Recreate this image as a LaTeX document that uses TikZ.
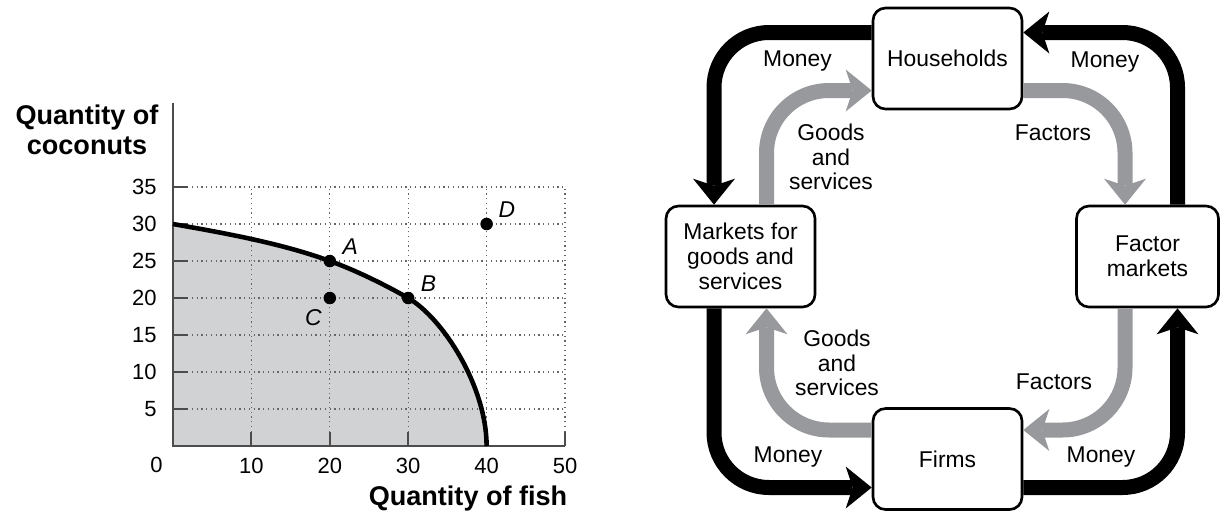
\documentclass[tikz,border=0pt]{standalone}
\usepackage{fontspec}
\setmainfont{Liberation Sans}
\usetikzlibrary{arrows.meta, positioning}
\definecolor{flowgray}{RGB}{152,153,156}
\definecolor{areagray}{RGB}{209,210,212}
\tikzstyle{sector} = [rectangle, rounded corners=0.25cm, minimum width=2.98cm, minimum height=2.02cm, text centered, align=center, draw=black, line width=1.5pt, fill=white, font=\fontsize{13}{14.2}\selectfont]
\tikzstyle{flowtext} = [align=center, font=\fontsize{13}{14}\selectfont]
\tikzstyle{moneyflow} = [draw=black, line width=0.3cm, rounded corners=1.1cm, -{Stealth[length=0.52cm, width=0.84cm, inset=0.14cm, line width=0pt]}]
\tikzstyle{goodsflow} = [moneyflow, draw=flowgray, rounded corners=1.25cm]
\tikzstyle{gridline} = [dotted, line width=0.7pt, draw=black!60]
\tikzstyle{axis} = [line width=1.1pt, draw=black!70]
\tikzstyle{frontier} = [line width=2.6pt, draw=black]
\tikzstyle{pointdot} = [circle, fill=black, inner sep=0pt, minimum size=0.25cm]
\tikzstyle{ptlabel} = [font=\fontsize{13}{14}\selectfont\itshape]
\tikzstyle{ticklabel} = [font=\fontsize{12.5}{14}\selectfont]
\tikzstyle{axistitle} = [align=center, font=\fontsize{15.4}{17}\selectfont\bfseries]
\begin{document}
\begin{tikzpicture}[node distance=1cm]
\useasboundingbox (0,0) rectangle (24.4,10.32);

\begin{scope}[shift={(3.46,1.40)}, x=0.1568cm, y=0.148cm]
\fill [areagray] (0,0) -- (0,30) .. controls (6.53,28.78) and (13.79,27.41) .. (20,25) .. controls (23.27,23.76) and (26.99,21.82) .. (30,20) .. controls (34.39,17.3) and (40,8.1) .. (40,0) -- cycle;
\foreach \x in {10,20,30,40,50}
  \draw [gridline] (\x,0) -- (\x,35);
\foreach \y in {5,10,...,35}
  \draw [gridline] (0,\y) -- (50,\y);
\draw [axis] (0,46.3) -- (0,0) -- (50,0);
\foreach \y in {5,10,...,35} {
  \draw [axis] (0,\y) -- (1.9,\y);
  \node (ylab\y) [ticklabel, anchor=east] at (-1.3,\y) {\y};
}
\foreach \x in {10,20,30,40,50} {
  \draw [axis] (\x,0) -- (\x,1.9);
  \node (xlab\x) [ticklabel] at (\x,-2.7) {\x};
}
\node (origin) [ticklabel] at (-2.1,-2.6) {0};
\draw [frontier] (0,30) .. controls (6.53,28.78) and (13.79,27.41) .. (20,25) .. controls (23.27,23.76) and (26.99,21.82) .. (30,20) .. controls (34.39,17.3) and (40,8.1) .. (40,0);
\node (ptA) [pointdot] at (20,25) {};
\node (ptB) [pointdot] at (30,20) {};
\node (ptC) [pointdot] at (20,20) {};
\node (ptD) [pointdot] at (40,30) {};
\node (labA) [ptlabel] at (22.6,26.9) {A};
\node (labB) [ptlabel] at (32.6,22.0) {B};
\node (labC) [ptlabel] at (17.9,17.4) {C};
\node (labD) [ptlabel] at (42.6,31.9) {D};
\end{scope}
\node (coconuts) [axistitle] at (1.74,7.72) {Quantity of\\coconuts};
\node (fish) [axistitle] at (9.36,0.36) {Quantity of fish};

\node (households) [sector] at (18.95,9.15) {Households};
\node (firms) [sector, below of=households, yshift=-7.01cm] {Firms};
\node (goodsmarkets) [sector, below of=households, xshift=-4.14cm, yshift=-2.96cm] {Markets for\\goods and\\services};
\node (factormarkets) [sector, minimum width=2.84cm, below of=households, xshift=4.0cm, yshift=-2.96cm] {Factor\\markets};

\draw [moneyflow] ([yshift=0.52cm]households.west) -| ([xshift=-0.53cm]goodsmarkets.north);
\draw [moneyflow] ([xshift=0.6cm]factormarkets.north) |- ([yshift=0.52cm]households.east);
\draw [moneyflow] ([xshift=-0.53cm]goodsmarkets.south) |- ([yshift=-0.57cm]firms.west);
\draw [moneyflow] ([yshift=-0.57cm]firms.east) -| ([xshift=0.6cm]factormarkets.south);
\draw [goodsflow] ([xshift=0.52cm]goodsmarkets.north) |- ([yshift=-0.64cm]households.west);
\draw [goodsflow] ([yshift=-0.64cm]households.east) -| ([xshift=-0.45cm]factormarkets.north);
\draw [goodsflow] ([xshift=-0.45cm]factormarkets.south) |- ([yshift=0.58cm]firms.east);
\draw [goodsflow] ([yshift=0.58cm]firms.west) -| ([xshift=0.52cm]goodsmarkets.south);

\node (moneyTL) [flowtext] at (15.95,9.1) {Money};
\node (moneyTR) [flowtext] at (22.1,9.08) {Money};
\node (moneyBL) [flowtext] at (15.76,1.18) {Money};
\node (moneyBR) [flowtext] at (22.02,1.18) {Money};
\node (goodsTop) [flowtext] at (16.62,7.18) {Goods\\and\\services};
\node (goodsBot) [flowtext] at (16.74,3.06) {Goods\\and\\services};
\node (factorsTop) [flowtext] at (21.06,7.66) {Factors};
\node (factorsBot) [flowtext] at (21.08,2.68) {Factors};

\end{tikzpicture}
\end{document}
